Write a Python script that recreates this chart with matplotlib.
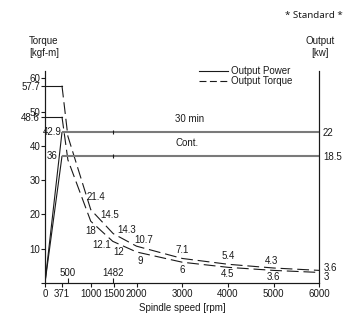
import matplotlib
matplotlib.use("Agg")
import matplotlib.pyplot as plt
from matplotlib.lines import Line2D

plt.rcParams['font.family'] = ['Liberation Sans', 'DejaVu Sans']
plt.rcParams['lines.scale_dashes'] = False

# ---- data ----
speeds = [0, 371, 500, 1000, 1482, 1500, 2000, 3000, 4000, 5000, 6000]
torque_30min = [57.7, 57.7, 42.9, 21.4, 14.5, 14.3, 10.7, 7.1, 5.4, 4.3, 3.6]
torque_cont = [48.6, 48.6, 36, 18, 12.1, 12, 9, 6, 4.5, 3.6, 3]

power_speeds = [0, 371, 6000]
power_30min = [0, 22, 22]
power_cont = [0, 18.5, 18.5]
power_mark_speed = 1482

x_ticks = [0, 371, 1000, 1500, 2000, 3000, 4000, 5000, 6000]
x_ticks_inner = [500, 1482]
y_ticks_left = [0, 10, 20, 30, 40, 48.6, 50, 57.7, 60]
y_tick_labels_left = ['', '10', '20', '30', '40', '48.6', '50', '57.7', '60']
y_ticks_right = [18.5, 22]

# label text: (speed, value, text, dx px, dy px)
curve_labels = [
    (1000, 21.4, '21.4', 5, 13),
    (1482, 14.5, '14.5', -3, 18),
    (1000, 18, '18', 0, -10),
    (1500, 14.3, '14.3', 13, 4),
    (1482, 12.1, '12.1', -11, -4),
    (1500, 12, '12', 5, -10),
    (2000, 10.7, '10.7', 7, 6),
    (2000, 9, '9', 4, -9),
    (3000, 7.1, '7.1', 0, 8),
    (3000, 6, '6', 0, -8),
    (4000, 5.4, '5.4', 0, 8),
    (4000, 4.5, '4.5', 0, -7),
    (5000, 4.3, '4.3', -2, 7),
    (5000, 3.6, '3.6', 0, -7),
]
end_labels = [(6000, 3.6, '3.6', 4, 2), (6000, 3, '3', 4, -5)]
start_labels = [(0, 42.9, '42.9', 7, 4), (0, 36, '36', 7, 4)]

W, H = 346, 319
fig = plt.figure(figsize=(W / 100, H / 100), dpi=100)
x0, x1, y0, y1 = 45, 319.5, 282.7, 71
ax = fig.add_axes([x0 / W, 1 - y0 / H, (x1 - x0) / W, (y0 - y1) / H])
ax2 = ax.twinx()

dark = '#1a1a1a'
gray = '#7a7a7a'
fs = 7.0

ax.set_xlim(0, 6000)
ax.set_ylim(0, 62)
ax2.set_ylim(0, 31)

# torque curves: solid up to base speed, dashed beyond
dash = (0, (8.5, 3.5))
for tq in (torque_30min, torque_cont):
    ax.plot(speeds[:2], tq[:2], color=dark, lw=0.8)
    ax.plot(speeds[1:], tq[1:], color=dark, lw=0.8, linestyle=dash)

# power lines
for pw in (power_30min, power_cont):
    ax2.plot(power_speeds[:2], pw[:2], color=dark, lw=0.8)
    ax2.plot(power_speeds[1:], pw[1:], color=gray, lw=1.5, solid_capstyle='butt')
    ax2.plot([power_mark_speed], [pw[1]], marker='|', ms=3, mew=0.8, color=dark)

ax2.text(2845, 22 + 1.2, '30 min', fontsize=fs, color=dark, ha='left', va='bottom')
ax2.text(2845, 18.5 + 1.2, 'Cont.', fontsize=fs, color=dark, ha='left', va='bottom')

for sp, v, t, dx, dy in curve_labels:
    ax.annotate(t, xy=(sp, v), xytext=(dx, dy), textcoords='offset pixels',
                ha='center', va='center', fontsize=fs, color=dark)
for sp, v, t, dx, dy in end_labels:
    ax.annotate(t, xy=(sp, v), xytext=(dx, dy), textcoords='offset pixels',
                ha='left', va='center', fontsize=fs, color=dark, annotation_clip=False)
for sp, v, t, dx, dy in start_labels:
    ax.annotate(t, xy=(sp, v), xytext=(dx, dy), textcoords='offset pixels',
                ha='center', va='center', fontsize=fs, color=dark, annotation_clip=False)
for sp in x_ticks_inner:
    ax.annotate(str(sp), xy=(sp, 0), xytext=(0, 10), textcoords='offset pixels',
                ha='center', va='center', fontsize=fs, color=dark)

# spines and ticks
for a in (ax, ax2):
    a.spines['top'].set_visible(False)
    for s in ('left', 'right', 'bottom'):
        a.spines[s].set_linewidth(0.8)
        a.spines[s].set_color(dark)
ax.set_xticks(x_ticks)
ax.set_xticklabels([str(v) for v in x_ticks])
ax.set_xticks(x_ticks_inner, minor=True)
ax.tick_params(axis='x', which='major', direction='out', length=3, width=0.8,
               pad=1.5, labelsize=fs, colors=dark)
ax.tick_params(axis='x', which='minor', direction='in', length=3.5, width=0.8,
               color=dark)
ax.set_yticks(y_ticks_left)
ax.set_yticklabels(y_tick_labels_left)
ax.tick_params(axis='y', direction='out', length=3, width=0.8, pad=0.5,
               labelsize=fs, colors=dark)
ax2.set_yticks(y_ticks_right)
ax2.set_yticklabels([('%g' % v) for v in y_ticks_right])
ax2.tick_params(axis='y', length=0, pad=2.5, labelsize=fs, colors=dark)

ax.set_xlabel('Spindle speed [rpm]', fontsize=fs, color=dark, labelpad=3)

fig.text(44 / W, 1 - 41.5 / H, 'Torque', fontsize=fs, color=dark, ha='center', va='center')
fig.text(44 / W, 1 - 53 / H, '[kgf-m]', fontsize=fs, color=dark, ha='center', va='center')
fig.text(320 / W, 1 - 41.5 / H, 'Output', fontsize=fs, color=dark, ha='center', va='center')
fig.text(320 / W, 1 - 53 / H, '[kw]', fontsize=fs, color=dark, ha='center', va='center')
fig.text(343 / W, 1 - 16 / H, '* Standard *', fontsize=7, color=dark, ha='right',
         va='center', family=['Noto Sans', 'DejaVu Sans'])

handles = [Line2D([], [], color=dark, lw=0.8),
           Line2D([], [], color=dark, lw=0.8, linestyle=(0, (5, 2.5)))]
fig.legend(handles, ['Output Power', 'Output Torque'], loc='upper left',
           bbox_to_anchor=(199 / W, 1 - 66.5 / H), frameon=False, fontsize=fs,
           handlelength=3.0, handletextpad=0.3, labelspacing=0.0,
           borderpad=0, borderaxespad=0, labelcolor=dark)

fig.savefig('out.png', dpi=100)
